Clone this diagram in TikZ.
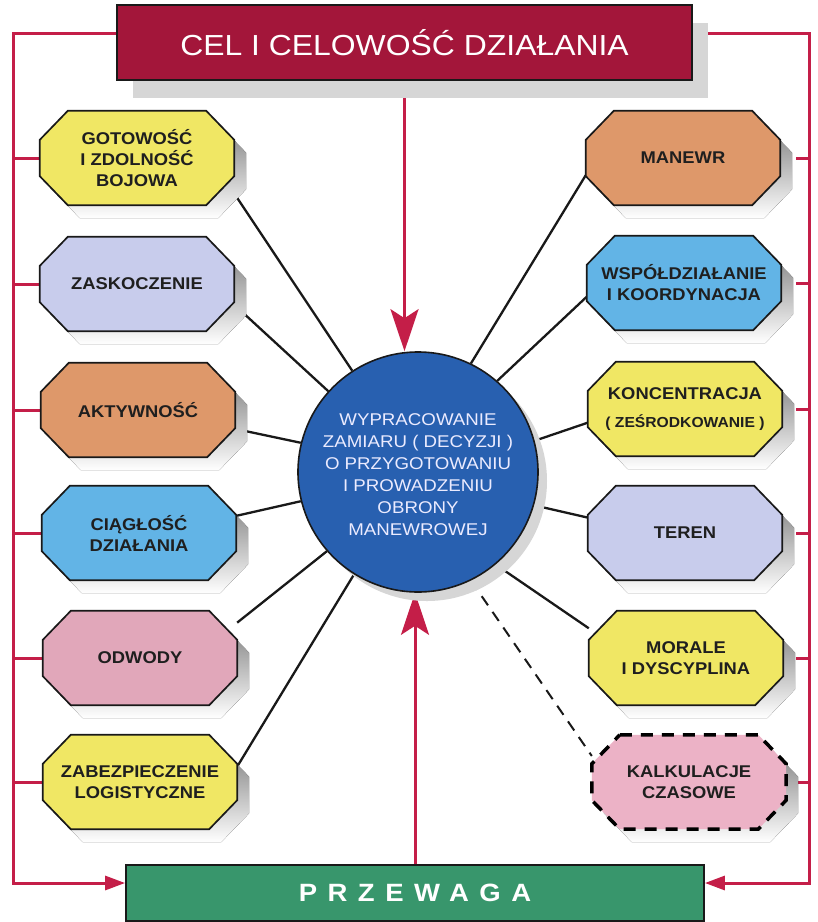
\documentclass[tikz,border=0pt]{standalone}
\usepackage{fontspec}
\setmainfont{Liberation Sans}
\newfontfamily\octfont{Liberation Sans}[FakeStretch=1.08]
\newfontfamily\titlefont{Liberation Sans}[FakeStretch=1.1,WordSpace=1.8]
\newfontfamily\barfont{Liberation Sans}[FakeStretch=1.1,LetterSpace=42]
\newfontfamily\circfont{Liberation Sans}[FakeStretch=1.1]
\usetikzlibrary{shadows,arrows.meta,calc}
\pgfdeclarelayer{back}
\pgfdeclarelayer{bg}
\pgfdeclarelayer{octl}
\pgfsetlayers{back,bg,octl,main}
\definecolor{topred}{RGB}{163,22,58}
\definecolor{framered}{RGB}{196,30,72}
\definecolor{oyellow}{RGB}{240,231,100}
\definecolor{olav}{RGB}{200,204,236}
\definecolor{oorange}{RGB}{222,152,106}
\definecolor{oblue}{RGB}{98,180,230}
\definecolor{opink}{RGB}{225,167,186}
\definecolor{opink2}{RGB}{236,178,198}
\definecolor{cblue}{RGB}{40,96,176}
\definecolor{bgreen}{RGB}{56,150,108}
\definecolor{shade}{RGB}{214,214,214}
\newcommand\octagonpath[1]{($(#1.north west)+(28pt,0pt)$) -- ($(#1.north east)+(-28pt,0pt)$) -- ($(#1.north east)+(0pt,-29pt)$) -- ($(#1.south east)+(0pt,29pt)$) -- ($(#1.south east)+(-28pt,0pt)$) -- ($(#1.south west)+(28pt,0pt)$) -- ($(#1.south west)+(0pt,29pt)$) -- ($(#1.north west)+(0pt,-29pt)$) -- cycle}
\tikzset{
  oct/.style={rectangle, minimum width=194pt, minimum height=94pt, inner sep=0pt,
    align=center, text=black!88,
    font=\octfont\bfseries\fontsize{17}{21}\selectfont},
  octline/.style={draw=black!90, line width=1.7pt, line join=miter},
  barbox/.style={rectangle, draw=black!90, line width=1.8pt, inner sep=0pt},
  redline/.style={draw=framered, line width=3pt},
  spoke/.style={draw=black!90, line width=2.3pt},
  bigtip/.style={-{Stealth[length=42pt,width=28pt,inset=9pt]}},
  smalltip/.style={-{Triangle[length=20pt,width=14pt]}}
}
\begin{document}
\begin{tikzpicture}[x=1pt,y=-1pt]
\begin{pgfonlayer}{back}
\fill[white] (0,0) rectangle (818,922);
\end{pgfonlayer}
\useasboundingbox (0,0) rectangle (818,922);

% bars
\node[barbox, fill=topred, minimum width=575pt, minimum height=75pt, text=white,
  font=\titlefont\fontsize{29}{34}\selectfont,
  drop shadow={shadow xshift=16pt, shadow yshift=-18pt, fill=shade, opacity=1}] (top) at (404.5,42.5) {CEL I CELOWOŚĆ DZIAŁANIA};
\node[barbox, fill=bgreen, minimum width=578pt, minimum height=56pt, text=white,
  font=\barfont\bfseries\fontsize{25}{28}\selectfont] (bot) at (415,893) {PRZEWAGA};

% centre
\node[circle, fill=cblue, draw=black!90, line width=1.6pt, minimum size=240pt, inner sep=0pt,
  drop shadow={shadow xshift=9pt, shadow yshift=-9pt, fill=shade, opacity=1}] (c) at (418,472) {};
\node[align=center, text=white!92!blue, font=\circfont\fontsize{17}{22}\selectfont] (ct) at (418,475)
  {WYPRACOWANIE\\ZAMIARU ( DECYZJI )\\O PRZYGOTOWANIU\\I PROWADZENIU\\OBRONY\\MANEWROWEJ};

% left octagons
\node[oct] (g)  at (137,158) {GOTOWOŚĆ\\I ZDOLNOŚĆ\\BOJOWA};
\node[oct] (z)  at (137,284) {ZASKOCZENIE};
\node[oct] (a)  at (138,410) {AKTYWNOŚĆ};
\node[oct] (ci) at (139,533) {CIĄGŁOŚĆ\\DZIAŁANIA};
\node[oct] (o)  at (140,658) {ODWODY};
\node[oct] (zl) at (140,782) {ZABEZPIECZENIE\\LOGISTYCZNE};

% right octagons
\node[oct] (m)  at (683,158) {MANEWR};
\node[oct] (w)  at (684,283) {WSPÓŁDZIAŁANIE\\I KOORDYNACJA};
\node[oct] (k)  at (685,409) {KONCENTRACJA\\[7pt]{\fontsize{14.5}{16}\selectfont ( ZEŚRODKOWANIE )}};
\node[oct] (t)  at (685,533) {TEREN};
\node[oct] (mo) at (686,658) {MORALE\\I DYSCYPLINA};
\node[oct] (ka) at (689,782) {KALKULACJE\\CZASOWE};

% octagon bodies
\begin{pgfonlayer}{octl}
\begin{scope}[transform canvas={xshift=12pt,yshift=-13pt}]
\foreach \n in {g,z,a,ci,o,zl,m,w,k,t,mo,ka}{
  \fill[shade] \octagonpath{\n};
}
\end{scope}
\foreach \n/\f in {g/oyellow,z/olav,a/oorange,ci/oblue,o/opink,zl/oyellow,m/oorange,w/oblue,k/oyellow,t/olav,mo/oyellow}{
  \path[octline, fill=\f] \octagonpath{\n};
}
\path[fill=opink2, draw=black, line width=3.5pt, dash pattern=on 12pt off 9pt] \octagonpath{ka};
\end{pgfonlayer}

\begin{pgfonlayer}{bg}
% frame
\coordinate (fl) at (13,33);
\coordinate (fr) at (809,33);
\coordinate (bl) at (13,883);
\coordinate (br) at (809,883);
\draw[redline, smalltip] (top.west |- fl) -- (fl) -- (bl) -- (bot.west |- bl);
\draw[redline, smalltip] (top.east |- fr) -- (fr) -- (br) -- (bot.east |- br);
\foreach \n in {g,z,a,ci,o,zl}{
  \draw[redline] (fl |- \n.west) -- (\n.west);
}
\foreach \n in {m,w,k,t,mo,ka}{
  \draw[redline] (fr |- \n.east) -- ++(-13,0);
}
% central arrows
\draw[redline, bigtip] (top.south) -- (top.south |- c.north);
\draw[redline, bigtip] (bot.north) -- (bot.north |- c.south);
% spokes
\draw[spoke] (c.123) -- (g.-20);
\draw[spoke] (c.138) -- (z.-12);
\draw[spoke] (c.166) -- (a.-11);
\draw[spoke] (c.194) -- (ci.10);
\draw[spoke] (c.221) -- (o.20);
\draw[spoke] (c.238) -- (zl.9);
\draw[spoke] (c.64) -- (m.190);
\draw[spoke] (c.49) -- (w.188);
\draw[spoke] (c.15) -- (k.188);
\draw[spoke] (c.-16) -- (t.171);
\draw[spoke] (c.-50) -- (mo.163);
\draw[spoke, line width=2pt, dash pattern=on 11pt off 8pt] (c.-64) -- (ka.165);
\end{pgfonlayer}
\end{tikzpicture}
\end{document}
